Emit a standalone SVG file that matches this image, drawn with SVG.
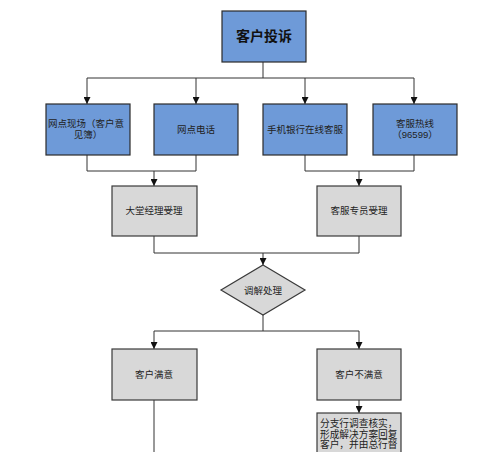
<svg xmlns="http://www.w3.org/2000/svg" width="500" height="452" viewBox="0 0 500 452">
<defs>
<marker id="arr" viewBox="0 0 10 10" refX="10" refY="5" markerWidth="7" markerHeight="7" markerUnits="userSpaceOnUse" orient="auto">
<path d="M0,0 L10,5 L0,10 z" fill="#111"/>
</marker>
<style>
.blue{fill:#6e9ad8;stroke:#2b2b2b;stroke-width:1.2}
.gray{fill:#d8d8d8;stroke:#3a3a3a;stroke-width:1.2}
.t{font-family:"Liberation Sans","Noto Sans CJK SC",sans-serif;font-size:9.5px;fill:#222;text-anchor:middle}
.title{font-family:"Liberation Sans","Noto Sans CJK SC",sans-serif;font-size:14px;font-weight:bold;fill:#111;text-anchor:middle}
.tl{font-family:"Liberation Sans","Noto Sans CJK SC",sans-serif;font-size:9.7px;fill:#222}
.c{fill:none;stroke:#333;stroke-width:1}
</style>
</defs>
<rect width="500" height="452" fill="#fff"/>
<g id="connectors">
<path class="c" d="M263,62 V78"/>
<path class="c" d="M87,78 H414"/>
<path class="c" d="M87,78 V104" marker-end="url(#arr)"/>
<path class="c" d="M196,78 V104" marker-end="url(#arr)"/>
<path class="c" d="M305,78 V104" marker-end="url(#arr)"/>
<path class="c" d="M414,78 V104" marker-end="url(#arr)"/>
<path class="c" d="M87,155 V171 H196 V155"/>
<path class="c" d="M154,171 V186" marker-end="url(#arr)"/>
<path class="c" d="M305,155 V171 H414 V155"/>
<path class="c" d="M359,171 V186" marker-end="url(#arr)"/>
<path class="c" d="M154,236 V253 H359 V236"/>
<path class="c" d="M263,253 V265" marker-end="url(#arr)"/>
<path class="c" d="M263,315 V331"/>
<path class="c" d="M154,331 H359"/>
<path class="c" d="M154,331 V349" marker-end="url(#arr)"/>
<path class="c" d="M359,331 V349" marker-end="url(#arr)"/>
<path class="c" d="M154,400 V452"/>
<path class="c" d="M359,400 V413" marker-end="url(#arr)"/>
</g>
<g id="n-top"><rect class="blue" x="222" y="11" width="84" height="51"/><text class="title" x="264" y="41">客户投诉</text></g>
<g id="n-site"><rect class="blue" x="46" y="104" width="84" height="51"/><text class="t" x="86" y="127">网点现场（客户意</text><text class="t" x="88" y="138">见簿）</text></g>
<g id="n-phone"><rect class="blue" x="154" y="104" width="84" height="51"/><text class="t" x="196" y="133">网点电话</text></g>
<g id="n-mobile"><rect class="blue" x="263" y="104" width="84" height="51"/><text class="t" x="305" y="133">手机银行在线客服</text></g>
<g id="n-hotline"><rect class="blue" x="373" y="104" width="84" height="51"/><text class="t" x="415" y="126.5">客服热线</text><text class="t" x="415" y="137.5">（96599）</text></g>
<g id="n-lobby"><rect class="gray" x="112" y="186" width="85" height="50"/><text class="t" x="154" y="214">大堂经理受理</text></g>
<g id="n-cs"><rect class="gray" x="317" y="186" width="84" height="50"/><text class="t" x="359" y="214">客服专员受理</text></g>
<g id="n-mediate"><path class="gray" d="M263,265 L305,290 L263,315 L221,290 Z"/><text class="t" x="263" y="293.5">调解处理</text></g>
<g id="n-ok"><rect class="gray" x="112" y="349" width="85" height="51"/><text class="t" x="154" y="378">客户满意</text></g>
<g id="n-notok"><rect class="gray" x="317" y="349" width="84" height="51"/><text class="t" x="359" y="378">客户不满意</text></g>
<g id="n-branch"><rect class="gray" x="317" y="413" width="84" height="50"/><text class="tl" x="320" y="427">分支行调查核实，</text><text class="tl" x="320" y="437.5">形成解决方案回复</text><text class="tl" x="320" y="448">客户，并由总行督</text></g>
</svg>
